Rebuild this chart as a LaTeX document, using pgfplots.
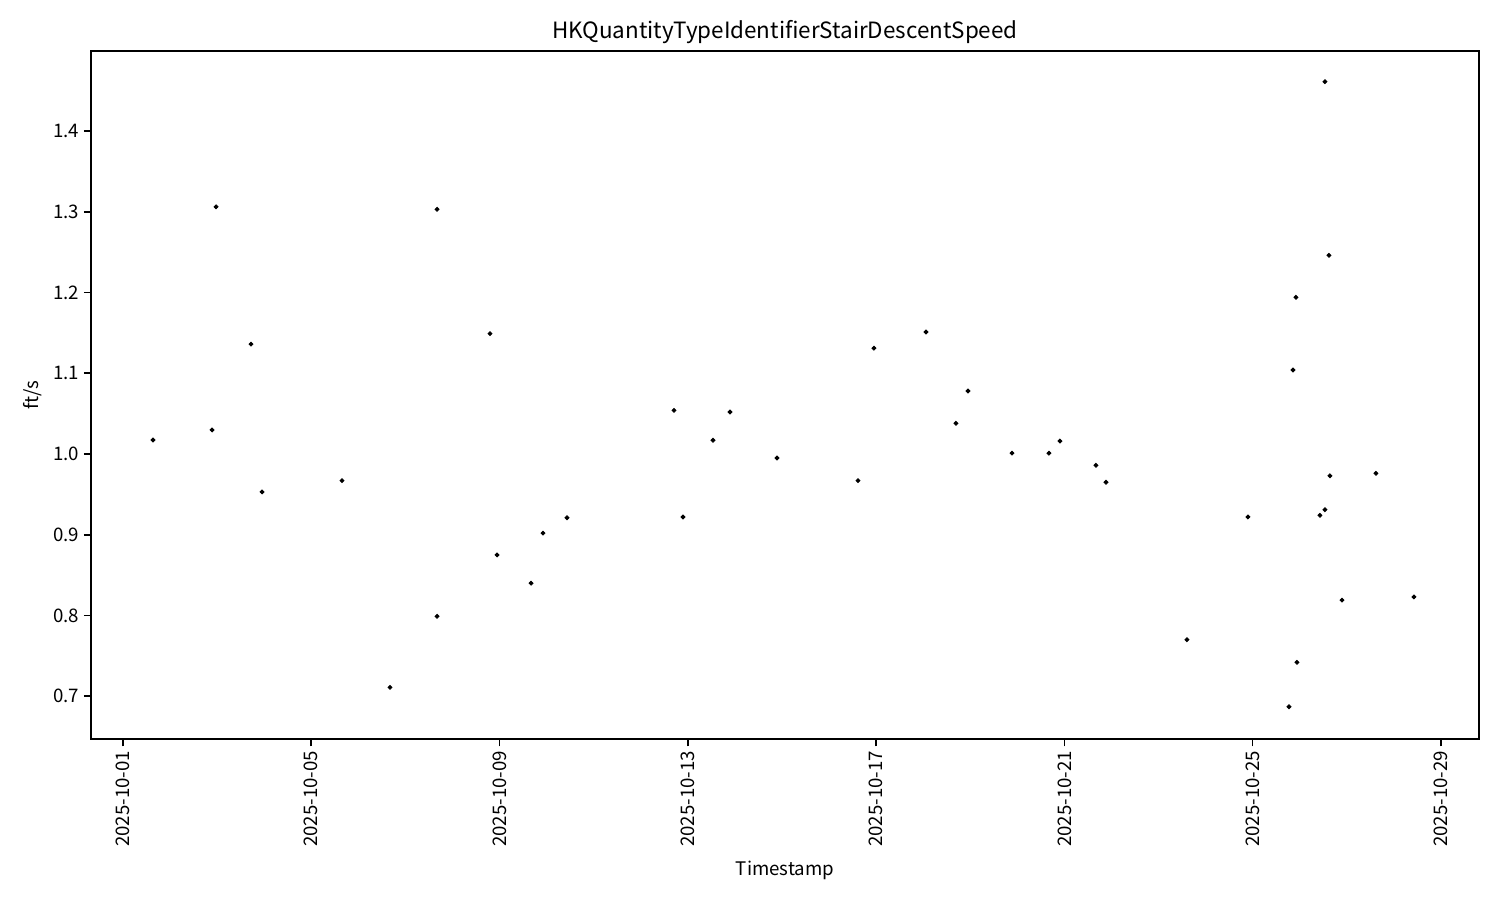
\documentclass[border=0pt]{standalone}
\usepackage{fontspec}
\setmainfont{Noto Sans CJK JP}
\usepackage{pgfplots}
\pgfplotsset{compat=1.18}
\usetikzlibrary{calc}

% days since 2025-10-01 (0 = Oct 1, 00:00)
\pgfplotstableread{
day val
0.637 1.0173
1.891 1.0297
1.976 1.306
2.719 1.136
2.953 0.953
4.653 0.967
5.672 0.711
6.671 1.303
6.671 0.799
7.797 1.149
7.946 0.875
8.668 0.840
8.923 0.902
9.433 0.921
11.706 1.054
11.897 0.922
12.535 1.017
12.896 1.052
13.894 0.995
15.615 0.967
15.955 1.131
17.060 1.151
17.697 1.038
17.952 1.078
18.887 1.001
19.673 1.001
19.907 1.016
20.671 0.986
20.884 0.965
22.605 0.770
23.901 0.922
24.772 0.687
24.857 1.104
24.921 1.194
24.942 0.742
25.430 0.924
25.537 1.461
25.537 0.931
25.622 1.246
25.643 0.973
25.898 0.819
26.620 0.976
27.428 0.823
}\speed

\begin{document}
\begin{tikzpicture}[font=\fontsize{9}{11}\selectfont]
\begin{axis}[
  scale only axis,
  width=9.253in, height=4.587in,
  xmin=-0.68, xmax=28.81,
  ymin=0.647, ymax=1.499,
  xtick={0,4,...,28},
  xticklabels={2025-10-01,2025-10-05,2025-10-09,2025-10-13,2025-10-17,2025-10-21,2025-10-25,2025-10-29},
  x tick label style={rotate=90, anchor=east, inner sep=2pt},
  ytick={0.7,0.8,...,1.4},
  yticklabel style={/pgf/number format/fixed, /pgf/number format/fixed zerofill, /pgf/number format/precision=1, inner sep=2pt},
  /pgf/number format/assume math mode=true,
  tick align=outside,
  major tick length=3.5pt,
  tick style={black, line width=0.8pt},
  axis line style={line width=0.8pt},
  xtick pos=bottom, ytick pos=left,
  title={HKQuantityTypeIdentifierStairDescentSpeed},
  title style={font=\fontsize{10.8}{13}\selectfont, yshift=-6pt},
  xlabel={Timestamp},
  xlabel style={yshift=-1.3pt},
  ylabel={ft/s},
]
\addplot[only marks, mark=*, mark size=0.95pt, black] table[x=day, y=val] {\speed};
\end{axis}
\path ($(current axis.south west)+(-0.607in,-1.073in)$) rectangle ($(current axis.north east)+(0.14in,0.34in)$);
\end{tikzpicture}
\end{document}
